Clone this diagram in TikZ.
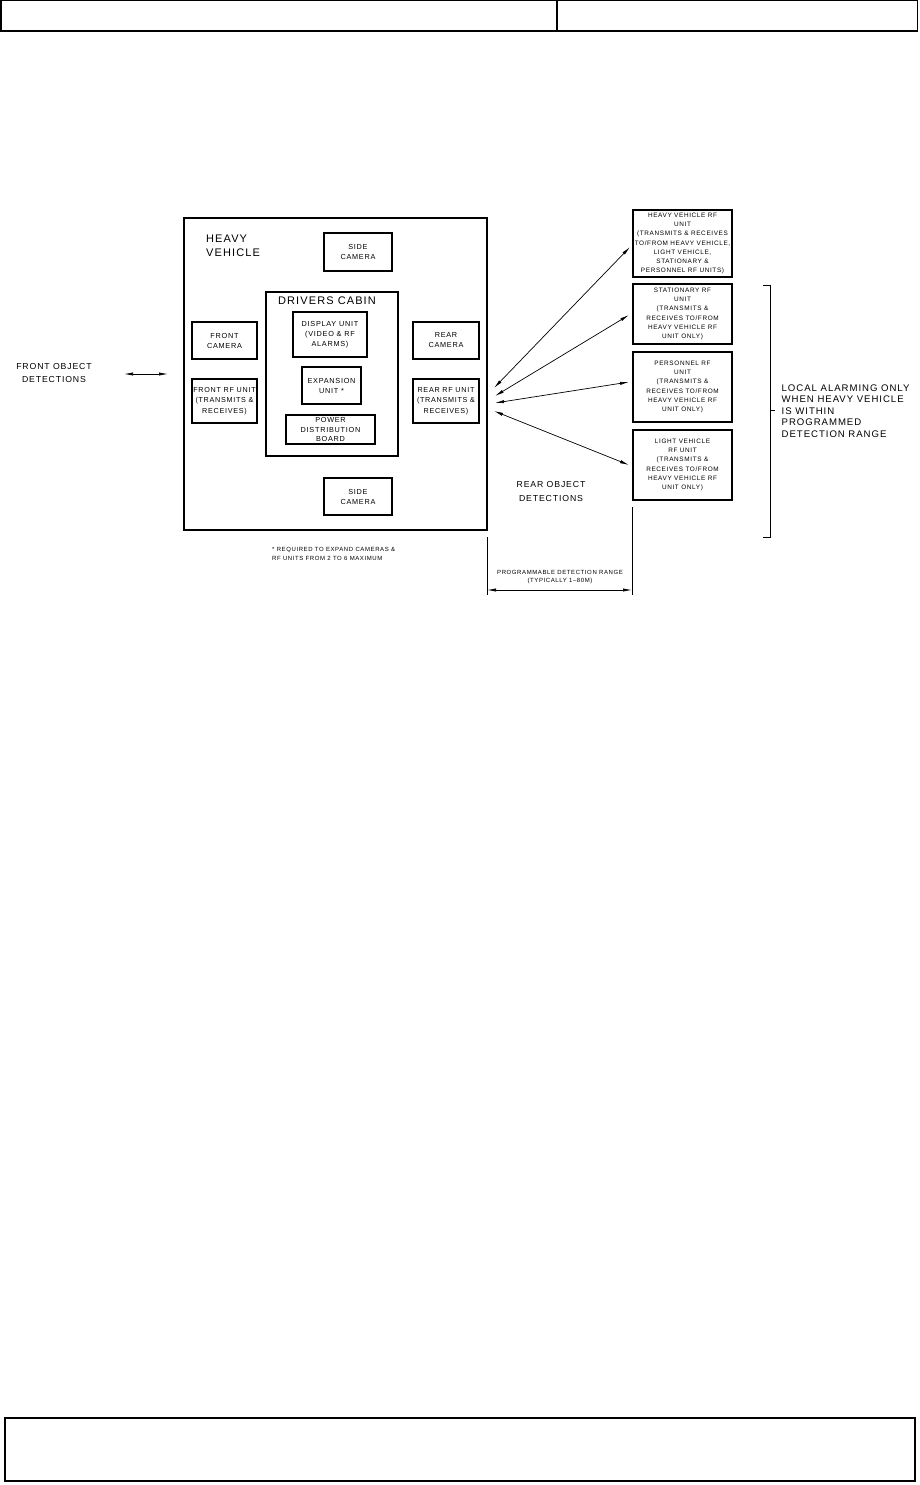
\documentclass[tikz,border=0pt]{standalone}
\usepackage{fontspec}
\setmainfont{Liberation Sans}[LetterSpace=10]
\usetikzlibrary{arrows.meta}
\tikzset{
  frame/.style={draw, line width=1.4pt},
  unit/.style={draw, line width=1.1pt, inner sep=0pt, align=center,
    font={\fontsize{7.3}{10}\selectfont}},
  rfunit/.style={draw, line width=1.1pt, inner sep=0pt, align=center,
    font={\fontsize{6.4}{9.2}\selectfont}},
  lbl/.style={inner sep=0pt, align=center},
  link/.style={line width=0.7pt, {Latex[length=9pt,width=3.2pt]}-{Latex[length=9pt,width=3.2pt]}},
  thin/.style={line width=1pt}
}
\begin{document}
\begin{tikzpicture}[x=1pt,y=-1pt]
\useasboundingbox (0,0) rectangle (919,1485);
% header and footer frames
\draw[frame] (0.8,0.8) rectangle (917.5,31);
\draw[frame] (557,0.8) -- (557,31);
\draw[frame] (5,1418) rectangle (915,1481);

% heavy vehicle
\node[draw, line width=1.1pt, minimum width=303pt, minimum height=312pt, inner sep=0pt] (hv) at (335.5,374) {};
\node[lbl, anchor=west, align=left, font={\fontsize{11}{14}\selectfont}] (hvlabel) at (206,246) {HEAVY\\VEHICLE};
\node[unit, minimum width=68pt, minimum height=38pt] (sidecamT) at (358,252) {SIDE\\CAMERA};
\node[draw, line width=1.1pt, minimum width=132pt, minimum height=164pt, inner sep=0pt] (cabin) at (332,374) {};
\node[lbl, font={\fontsize{11}{14}\selectfont}] (cabinlabel) at (327,301) {DRIVERS CABIN};
\node[unit, minimum width=74pt, minimum height=45pt] (display) at (330,334.5) {DISPLAY UNIT\\(VIDEO \& RF\\ALARMS)};
\node[unit, minimum width=59pt, minimum height=37pt] (expansion) at (331.5,385.5) {EXPANSION\\UNIT *};
\node[unit, minimum width=89pt, minimum height=29pt, font={\fontsize{7.3}{9.3}\selectfont}] (power) at (330.5,429.5) {POWER\\DISTRIBUTION\\BOARD};
\node[unit, minimum width=65pt, minimum height=37pt] (frontcam) at (224.5,340.5) {FRONT\\CAMERA};
\node[unit, minimum width=65pt, minimum height=44pt, font={\fontsize{7.2}{10.5}\selectfont}] (frontrf) at (224.5,401) {FRONT RF UNIT\\(TRANSMITS \&\\RECEIVES)};
\node[unit, minimum width=66pt, minimum height=37pt] (rearcam) at (446,340.5) {REAR\\CAMERA};
\node[unit, minimum width=66pt, minimum height=44pt, font={\fontsize{7.2}{10.5}\selectfont}] (rearrf) at (446,401) {REAR RF UNIT\\(TRANSMITS \&\\RECEIVES)};
\node[unit, minimum width=68pt, minimum height=37pt] (sidecamB) at (358,496.5) {SIDE\\CAMERA};

% right-hand RF units
\node[rfunit, minimum width=99pt, minimum height=67pt] (hvrf) at (682.5,243.5) {HEAVY VEHICLE RF\\UNIT\\(TRANSMITS \& RECEIVES\\TO/FROM HEAVY VEHICLE,\\LIGHT VEHICLE,\\STATIONARY \&\\PERSONNEL RF UNITS)};
\node[rfunit, minimum width=99pt, minimum height=60pt] (statrf) at (682.5,314) {STATIONARY RF\\UNIT\\(TRANSMITS \&\\RECEIVES TO/FROM\\HEAVY VEHICLE RF\\UNIT ONLY)};
\node[rfunit, minimum width=99pt, minimum height=70pt] (persrf) at (682.5,387) {PERSONNEL RF\\UNIT\\(TRANSMITS \&\\RECEIVES TO/FROM\\HEAVY VEHICLE RF\\UNIT ONLY)};
\node[rfunit, minimum width=99pt, minimum height=70pt] (lvrf) at (682.5,465) {LIGHT VEHICLE\\RF UNIT\\(TRANSMITS \&\\RECEIVES TO/FROM\\HEAVY VEHICLE RF\\UNIT ONLY)};

% links
\coordinate (a1L) at (494,388);   \coordinate (a1R) at (630,247);
\coordinate (a2L) at (495,396);   \coordinate (a2R) at (629,315);
\coordinate (a3L) at (495,403);   \coordinate (a3R) at (629,382);
\coordinate (a4L) at (494,411);   \coordinate (a4R) at (629,465);
\draw[link] (a1L) -- (a1R);
\draw[link] (a2L) -- (a2R);
\draw[link] (a3L) -- (a3R);
\draw[link] (a4L) -- (a4R);

% front detections
\node[lbl, font={\fontsize{8.7}{13}\selectfont}] (frontdet) at (54,373.5) {FRONT OBJECT\\DETECTIONS};
\coordinate (f1) at (124,374);
\coordinate (f2) at (168,374);
\draw[link] (f1) -- (f2);

% rear detections
\node[lbl, font={\fontsize{8.7}{14}\selectfont}] (reardet) at (551,491) {REAR OBJECT\\DETECTIONS};

% footnote
\node[lbl, anchor=west, align=left, font={\fontsize{6}{9}\selectfont}] (note) at (272,553.5) {* REQUIRED TO EXPAND CAMERAS \&\\RF UNITS FROM 2 TO 6 MAXIMUM};

% dimension
\coordinate (e1t) at (487,537); \coordinate (e1b) at (487,595);
\coordinate (e2t) at (632,507); \coordinate (e2b) at (632,595);
\draw[thin] (e1t) -- (e1b);
\draw[thin] (e2t) -- (e2b);
\coordinate (d1) at (487,590); \coordinate (d2) at (632,590);
\draw[link] (d1) -- (d2);
\node[lbl, font={\fontsize{6}{8.5}\selectfont}] (dimtext) at (560,577) {PROGRAMMABLE DETECTION RANGE\\(TYPICALLY 1--80M)};

% bracket
\coordinate (b1) at (763,285); \coordinate (b2) at (770,285);
\coordinate (b3) at (770,537); \coordinate (b4) at (763,537);
\coordinate (bm) at (770,410.7); \coordinate (bt) at (775,410.7);
\draw[thin] (b1) -- (b2) -- (b3) -- (b4);
\draw[thin] (bm) -- (bt);
\node[lbl, anchor=west, align=left, font={\fontsize{9.6}{11.5}\selectfont}] (localtext) at (781.5,410.7) {LOCAL ALARMING ONLY\\WHEN HEAVY VEHICLE\\IS WITHIN\\PROGRAMMED\\DETECTION RANGE};
\end{tikzpicture}
\end{document}
